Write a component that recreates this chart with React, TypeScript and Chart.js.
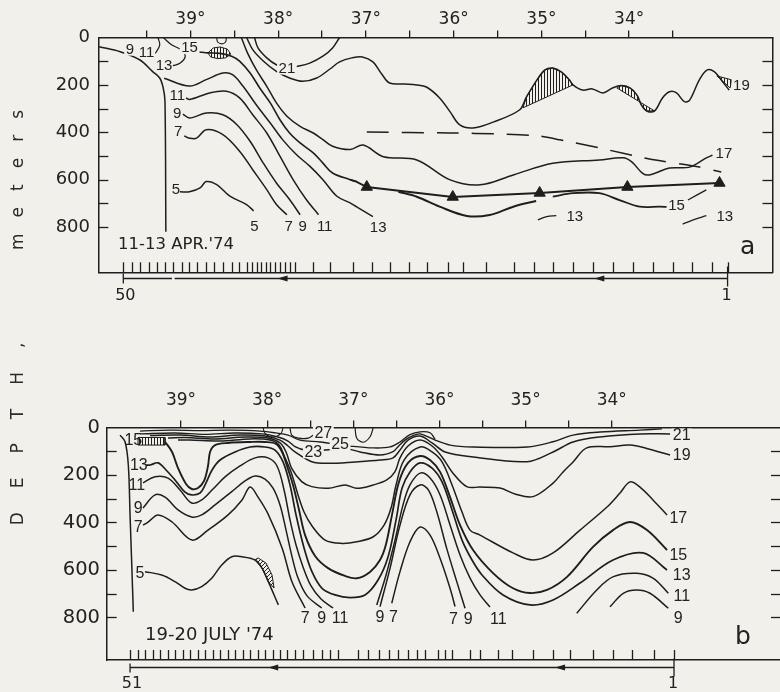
import React, { useEffect, useRef } from 'react';
import { Chart, registerables } from 'chart.js';
Chart.register(...registerables);

const INK = '#1e1e1e';
const TXT = '#222222';
const BG = '#f2f0ea';

type Pt = [number, number];
type Lbl = [string, number, number];

// ---------- shared axis values ----------
const depthLabels = [0, 200, 400, 600, 800];
const sideTicks = [100, 200, 300, 400, 500, 600, 700, 800];
const lonTicksA = [39.5, 39, 38.5, 38, 37.5, 37, 36.5, 36, 35.5, 35, 34.5, 34, 33.5];
const lonTicksB = [39, 38.5, 38, 37.5, 37, 36.5, 36, 35.5, 35, 34.5, 34];

// ---------- panel a (11-13 APR '74) : [longitude, depth m] ----------
const aCoast: Pt[] = [[40.04,39],[39.80,60],[39.575,95],[39.43,144],[39.35,171],[39.31,213],[39.29,271],[39.28,820]];
const aPocket11: Pt[] = [[39.37,0],[39.35,32],[39.40,67]];
const aPocket13: Pt[] = [[39.31,0],[39.21,32],[39.10,53],[39.06,81],[39.12,109],[39.20,119]];
const aLoop: Pt[] = [[38.70,0],[38.69,19],[38.64,27],[38.60,19],[38.59,0]];
const aLens: Pt[] = [[38.80,65],[38.74,44],[38.66,40],[38.58,49],[38.54,70],[38.60,86],[38.69,89],[38.77,82],[38.80,65]];
const a21: Pt[] = [[38.27,0],[38.23,44],[38.13,86],[38.02,115],[37.90,128],[37.79,122],[37.64,108],[37.49,79],[37.38,44],[37.30,0]];
const a19: Pt[] = [[38.36,0],[38.29,51],[38.17,99],[38.02,143],[37.87,171],[37.72,185],[37.56,171],[37.41,133],[37.30,103],[37.16,86],[37.04,82],[36.92,103],[36.82,154],[36.73,192],[36.56,196],[36.42,200],[36.31,209],[36.16,255],[36.04,314],[35.93,369],[35.78,382],[35.55,357],[35.25,306],[35.17,251],[35.05,179],[34.96,137],[34.87,129],[34.77,146],[34.68,179],[34.64,200],[34.53,222],[34.42,217],[34.30,234],[34.19,213],[34.09,203],[33.99,213],[33.91,243],[33.86,285],[33.80,310],[33.71,310],[33.62,255],[33.54,229],[33.46,234],[33.37,271],[33.31,264],[33.20,179],[33.11,137],[33.03,144],[32.95,179],[32.86,222]];
const a17: Pt[] = [[38.42,0],[38.35,65],[38.25,136],[38.13,206],[38.02,276],[37.90,332],[37.75,375],[37.60,403],[37.49,431],[37.38,459],[37.18,473],[37.03,454],[36.80,503],[36.42,517],[36.04,601],[35.70,622],[35.32,580],[34.87,531],[34.34,517],[34.07,508],[33.97,525],[33.85,572],[33.77,580],[33.54,551],[33.31,547],[33.12,508],[33.05,497]];
const a15: Pt[] = [[38.90,61],[38.80,65],[38.66,67],[38.53,79],[38.44,100],[38.32,150],[38.21,213],[38.09,276],[37.98,347],[37.87,403],[37.75,445],[37.60,487],[37.49,530],[37.38,572],[37.18,600],[37.11,608]];
const aTriLine: Pt[] = [[37.18,600],[37.11,608],[36.99,631],[36.01,673],[35.02,656],[34.02,631],[32.97,614]];
const aTriangles: Pt[] = [[36.99,631],[36.01,673],[35.02,656],[34.02,631],[32.97,614]];
const a13: Pt[] = [[39.30,172],[39.01,205],[38.82,178],[38.63,150],[38.52,157],[38.40,206],[38.25,284],[38.09,361],[37.95,431],[37.79,495],[37.64,543],[37.49,600],[37.33,670],[37.18,698],[37.11,714],[36.92,756]];
const a11: Pt[] = [[39.05,255],[39.01,262],[38.78,234],[38.59,227],[38.44,255],[38.29,326],[38.13,403],[37.98,501],[37.83,600],[37.68,684],[37.54,748]];
const a9: Pt[] = [[39.085,323],[39.01,340],[38.82,319],[38.63,326],[38.47,368],[38.32,438],[38.17,530],[38.02,614],[37.87,684],[37.75,748]];
const a7: Pt[] = [[39.07,416],[39.01,425],[38.93,425],[38.82,389],[38.63,410],[38.44,480],[38.29,558],[38.13,642],[38.02,705],[37.90,748]];
const a5: Pt[] = [[39.12,651],[39.01,651],[38.89,635],[38.82,608],[38.70,621],[38.55,670],[38.36,705],[38.28,732]];
const aDashed: Pt[] = [[36.99,399],[36.04,403],[35.48,407],[35.02,416],[34.79,432],[34.34,466],[33.77,513],[33.20,547],[32.95,568]];
const aHatch1: Pt[] = [[35.21,297],[35.17,251],[35.05,179],[34.96,137],[34.87,129],[34.77,146],[34.68,179],[34.64,200],[35.21,297]];
const aHatch2: Pt[] = [[34.14,213],[34.09,203],[33.99,213],[33.91,243],[33.86,285],[33.80,310],[33.71,310],[34.14,213]];
const aHatch3: Pt[] = [[33.00,162],[32.85,213],[32.83,179],[33.00,162]];
const a15lo1: Pt[] = [[36.63,651],[36.42,672],[36.16,714],[35.85,753],[35.59,749],[35.32,714],[35.06,690]];
const a15lo2: Pt[] = [[34.87,672],[34.64,657],[34.34,657],[34.11,686],[33.88,714],[33.65,714],[33.57,715]];
const a15lo3: Pt[] = [[33.33,686],[33.12,643]];
const a13f1: Pt[] = [[35.04,770],[34.94,756],[34.83,752]];
const a13f2: Pt[] = [[33.39,788],[33.27,770],[33.12,752]];

const stationsA = [39.765,39.670,39.575,39.469,39.385,39.290,39.196,39.100,39.014,38.923,38.823,38.732,38.633,38.531,38.444,38.353,38.296,38.246,38.200,38.144,38.095,38.038,37.981,37.924,37.867,37.810,37.605,37.412,37.149,36.933,36.728,36.512,36.307,36.067,35.896,35.634,35.315,35.087,34.871,34.643,34.415,34.187,33.960,33.732,33.504,33.287,33.060,32.878];
const arrowEndsA = [39.765, 32.878];
const arrowHeadsA = [37.95, 34.34];
const arrowGapA = [39.21, 39.18];

const labelsA: Lbl[] = [
  ['9',39.69,49],['15',39.01,43],['21',37.90,129],
  ['5',38.27,798],['7',37.88,798],['9',37.72,798],['11',37.47,798],['13',36.86,800],
  ['17',32.92,491],['15',33.46,707],['13',34.62,756],['13',32.91,756],['19',32.72,200],
];
const plainLabelsA: Lbl[] = [
  ['11',39.50,61],['13',39.30,116],['11',39.15,245],['9',39.15,319],['7',39.14,397],['5',39.165,643],
];

// ---------- panel b (19-20 JULY '74) ----------
const bCoast: Pt[] = [[39.708,32],[39.650,60],[39.612,158],[39.592,368],[39.572,579],[39.554,776]];
const bHatchBox: Pt[] = [[39.499,42],[39.186,42],[39.186,74],[39.499,74],[39.499,42]];
const b25: Pt[] = [[39.476,15],[39.128,11],[38.779,13],[38.431,11],[38.083,15],[37.897,23],[37.758,32],[37.619,53],[37.386,61],[37.212,69],[37.038,78],[36.771,86],[36.574,82],[36.458,61],[36.342,30],[36.225,18],[36.109,22],[36.05,50]];
const b23: Pt[] = [[39.476,27],[39.070,23],[38.721,29],[38.373,23],[38.060,27],[37.874,40],[37.758,57],[37.677,81],[37.560,95],[37.328,95],[37.061,91],[36.922,103],[36.690,116],[36.539,102],[36.481,81],[36.400,53],[36.318,36],[36.225,27],[36.051,53],[35.877,74],[35.610,82],[34.983,82],[34.681,60],[34.449,32],[34.136,19],[33.672,11],[33.417,6]];
const b21: Pt[] = [[39.360,34],[39.012,32],[38.663,40],[38.315,32],[38.025,36],[37.851,53],[37.758,78],[37.677,103],[37.483,144],[37.293,151],[36.980,145],[36.690,137],[36.539,128],[36.458,95],[36.365,53],[36.225,36],[36.086,65],[35.935,103],[35.610,124],[34.983,144],[34.681,103],[34.449,61],[34.136,40],[33.672,27],[33.323,27]];
const b19: Pt[] = [[39.151,44],[38.954,42],[38.605,48],[38.257,40],[37.990,44],[37.851,65],[37.781,103],[37.715,172],[37.599,228],[37.483,249],[37.290,256],[37.096,242],[36.960,256],[36.768,242],[36.612,221],[36.516,186],[36.458,128],[36.365,78],[36.225,53],[36.086,78],[35.970,124],[35.854,187],[35.683,249],[35.529,251],[35.297,255],[35.123,280],[34.914,291],[34.681,234],[34.565,187],[34.449,145],[34.290,86],[34.020,81],[33.788,74],[33.594,88],[33.323,116]];
const b17: Pt[] = [[39.035,53],[38.896,53],[38.547,57],[38.199,48],[37.967,53],[37.862,74],[37.793,128],[37.723,187],[37.642,284],[37.572,356],[37.479,415],[37.328,474],[37.134,488],[36.960,481],[36.768,460],[36.643,411],[36.562,339],[36.504,242],[36.411,137],[36.225,82],[36.086,103],[35.970,145],[35.854,242],[35.738,356],[35.645,432],[35.529,453],[35.146,528],[34.914,558],[34.681,528],[34.368,432],[34.055,335],[33.904,276],[33.788,229],[33.672,251],[33.521,305],[33.358,368]];
const b15: Pt[] = [[39.186,60],[39.104,103],[39.035,171],[38.942,238],[38.876,259],[38.803,255],[38.733,225],[38.687,162],[38.663,103],[38.605,74],[38.454,65],[38.199,61],[38.025,61],[37.897,69],[37.827,103],[37.770,162],[37.700,242],[37.630,347],[37.560,453],[37.444,541],[37.293,592],[37.096,625],[36.960,635],[36.806,608],[36.690,558],[36.623,495],[36.551,368],[36.470,229],[36.365,149],[36.225,120],[36.109,137],[35.993,187],[35.877,293],[35.761,411],[35.610,516],[35.378,613],[35.146,677],[34.948,697],[34.751,684],[34.519,629],[34.217,503],[33.985,432],[33.788,398],[33.591,432],[33.358,516]];
const b13: Pt[] = [[39.406,158],[39.360,158],[39.267,149],[39.174,179],[39.070,221],[38.954,272],[38.876,284],[38.779,276],[38.721,242],[38.640,179],[38.547,137],[38.373,103],[38.199,82],[38.025,82],[37.909,95],[37.816,145],[37.735,242],[37.665,368],[37.572,507],[37.479,608],[37.363,677],[37.212,705],[37.038,716],[36.864,705],[36.713,642],[36.597,545],[36.504,389],[36.434,255],[36.342,187],[36.225,149],[36.086,171],[35.970,229],[35.854,347],[35.738,474],[35.622,558],[35.506,621],[35.262,705],[34.948,747],[34.681,726],[34.368,655],[33.985,558],[33.637,528],[33.358,600]];
const b11: Pt[] = [[39.441,233],[39.302,207],[39.151,213],[39.012,263],[38.876,318],[38.760,305],[38.629,259],[38.489,208],[38.315,162],[38.141,128],[37.990,128],[37.886,162],[37.804,263],[37.735,389],[37.665,495],[37.584,587],[37.491,667],[37.375,722],[37.235,760]];
const b9: Pt[] = [[39.441,339],[39.302,284],[39.186,293],[39.035,347],[38.876,377],[38.760,368],[38.605,326],[38.411,270],[38.257,225],[38.141,204],[38.025,217],[37.932,255],[37.851,326],[37.781,432],[37.711,545],[37.642,634],[37.537,709],[37.367,760]];
const b7: Pt[] = [[39.441,411],[39.383,398],[39.267,368],[39.104,398],[38.872,474],[38.687,432],[38.454,368],[38.292,305],[38.199,251],[38.106,293],[37.990,364],[37.827,507],[37.711,651],[37.560,760]];
const b5: Pt[] = [[39.418,607],[39.224,621],[39.070,649],[38.954,677],[38.876,684],[38.760,670],[38.644,635],[38.528,579],[38.411,544],[38.295,544],[38.141,558],[38.060,592],[37.987,649],[37.870,747]];
const bHatch5: Pt[] = [[38.141,558],[38.060,592],[37.987,649],[37.920,676],[37.944,621],[38.013,571],[38.106,549],[38.141,558]];
const bDome11: Pt[] = [[36.728,747],[36.620,621],[36.516,474],[36.423,326],[36.342,242],[36.225,192],[36.109,213],[35.993,284],[35.877,411],[35.761,537],[35.645,634],[35.529,705],[35.413,756]];
const bDome9: Pt[] = [[36.690,754],[36.574,593],[36.458,411],[36.342,284],[36.225,242],[36.129,263],[36.032,354],[35.916,509],[35.799,649],[35.703,761]];
const bDome7: Pt[] = [[36.554,740],[36.458,607],[36.342,481],[36.225,419],[36.109,453],[35.993,551],[35.877,677],[35.819,754]];
const b11r: Pt[] = [[34.406,782],[34.174,684],[33.981,628],[33.710,614],[33.517,635],[33.343,698]];
const b9r: Pt[] = [[34.020,755],[33.866,698],[33.710,684],[33.556,698],[33.343,761]];
const b27: Pt[] = [[37.735,0],[37.715,32],[37.638,45],[37.522,45],[37.464,32]];
const bU1: Pt[] = [[38.048,0],[38.025,25],[37.932,40],[37.839,25],[37.816,0]];
const bU2: Pt[] = [[36.980,0],[36.960,45],[36.884,62],[36.806,39],[36.768,0]];

const stationsB = [39.592,39.505,39.418,39.331,39.244,39.157,39.070,38.983,38.896,38.808,38.721,38.634,38.547,38.460,38.373,38.286,38.199,38.112,38.025,37.938,37.851,37.773,37.677,37.580,37.464,37.367,37.270,37.174,36.942,36.826,36.698,36.582,36.481,36.365,36.264,36.167,36.013,35.935,35.857,35.645,35.528,35.316,35.160,34.919,34.678,34.484,34.223,33.991,33.759,33.509,33.277];
const arrowEndsB = [39.592, 33.277];
const arrowHeadsB = [37.93, 34.60];

const labelsB: Lbl[] = [
  ['27',37.348,24],['25',37.154,71],['23',37.464,102],
  ['7',37.560,802],['9',37.367,802],['11',37.154,802],
  ['9',36.690,798],['7',36.535,798],
  ['7',35.839,806],['9',35.665,806],['11',35.317,806],
  ['21',33.187,32],['19',33.187,116],['17',33.227,382],['15',33.227,537],['13',33.187,621],['11',33.187,712],['9',33.227,803],
];
const plainLabelsB: Lbl[] = [
  ['15',39.554,53],['13',39.49,158],['11',39.514,242],['9',39.496,339],['7',39.496,418],['5',39.476,614],
];

// ---------- panels ----------
const panelA = {
  id: 'a', lonMin: 32.366, lonMax: 40.05, depthMax: 991, lonTicks: lonTicksA,
  stations: stationsA, labels: labelsA, plain: plainLabelsA, labelSize: 15,
  arrowEnds: arrowEndsA, arrowHeads: arrowHeadsA, arrowGap: arrowGapA, endText: ['50', '1'],
  title: ["11-13 APR.'74", 39.826, 875] as Lbl, titleSize: 16.5, letter: ['a', 32.65, 885] as Lbl,
  box: { top: 37.5, bottom: 27.7, left: 98.3, right: 7 }, topPad: 0.5, leftPad: 8.3, yFont: 18,
  arrowDy: 6, numDy: 23.5, barR: [-12, 8], barL: [-5, 5],
};
const panelB = {
  id: 'b', lonMin: 32.035, lonMax: 39.863, depthMax: 979, lonTicks: lonTicksB,
  stations: stationsB, labels: labelsB, plain: plainLabelsB, labelSize: 16,
  arrowEnds: arrowEndsB, arrowHeads: arrowHeadsB, arrowGap: null as number[] | null, endText: ['51', '1'],
  title: ["19-20 JULY '74", 39.418, 874] as Lbl, titleSize: 18, letter: ['b', 32.476, 884] as Lbl,
  box: { top: 47.5, bottom: 32, left: 106.7, right: 9 }, topPad: 10, leftPad: 6.7, yFont: 19.5,
  arrowDy: 7, numDy: 24, barR: [-9, 9], barL: [-4, 5],
};

function toXY(a: Pt[]) { return a.map(([x, y]) => ({ x, y })); }
function lineDs(data: Pt[], width = 1.5, extra: any = {}) {
  return { data: toXY(data), borderColor: INK, borderWidth: width, pointRadius: 0, tension: 0.35, fill: false, xAxisID: 'x', yAxisID: 'y', ...extra };
}
function hatchDs(data: Pt[], pattern: any) {
  return { data: toXY(data), borderColor: INK, borderWidth: 1, pointRadius: 0, tension: 0, fill: 'shape', backgroundColor: pattern, xAxisID: 'x', yAxisID: 'y' };
}
function makePattern(kind: 'v' | 'd') {
  const c = document.createElement('canvas');
  const n = kind === 'v' ? 3 : 4;
  c.width = n; c.height = n;
  const g = c.getContext('2d')!;
  g.strokeStyle = INK; g.lineWidth = 1;
  g.beginPath();
  if (kind === 'v') { g.moveTo(1.5, 0); g.lineTo(1.5, n); } else { g.moveTo(0, n); g.lineTo(n, 0); }
  g.stroke();
  return g.createPattern(c, 'repeat');
}

function datasetsA(v: any) {
  return [
    lineDs(aCoast, 1.5), lineDs(aPocket11, 1.2), lineDs(aPocket13, 1.3), lineDs(aLoop, 1.1),
    lineDs(a21), lineDs(a19), lineDs(a17), lineDs(a15, 1.6), lineDs(aTriLine, 1.9, { tension: 0 }),
    lineDs(a13), lineDs(a11), lineDs(a9), lineDs(a7), lineDs(a5),
    lineDs(aDashed, 1.5, { borderDash: [22, 13], tension: 0.2 }),
    lineDs(a15lo1, 2), lineDs(a15lo2, 1.8), lineDs(a15lo3, 1.3), lineDs(a13f1, 1.3), lineDs(a13f2, 1.3),
    hatchDs(aLens, v), hatchDs(aHatch1, v), hatchDs(aHatch2, v), hatchDs(aHatch3, v),
    { data: toXY(aTriangles), showLine: false, pointStyle: 'triangle', pointRadius: 6.5, pointBackgroundColor: INK, pointBorderColor: INK, pointBorderWidth: 1, xAxisID: 'x', yAxisID: 'y' },
  ];
}
function datasetsB(v: any, d: any) {
  return [
    lineDs(bCoast, 1.5), lineDs(b25, 1.3), lineDs(b23, 1.4), lineDs(b21, 1.5), lineDs(b19, 1.5), lineDs(b17, 1.5),
    lineDs(b15, 1.9), lineDs(b13, 1.7), lineDs(b11), lineDs(b9), lineDs(b7), lineDs(b5),
    lineDs(bDome11), lineDs(bDome9), lineDs(bDome7), lineDs(b11r), lineDs(b9r),
    lineDs(b27, 1.2), lineDs(bU1, 1.1), lineDs(bU2, 1.2),
    hatchDs(bHatchBox, v), hatchDs(bHatch5, d),
  ];
}

function decor(p: any) {
  return {
    id: 'decor_' + p.id,
    afterDatasetsDraw(chart: any) {
      const { ctx, chartArea: ca } = chart;
      const xs = chart.scales.x, ys = chart.scales.y;
      const X = (val: number) => xs.getPixelForValue(val);
      const Y = (val: number) => ys.getPixelForValue(val);
      const seg = (x1: number, y1: number, x2: number, y2: number) => { ctx.beginPath(); ctx.moveTo(x1, y1); ctx.lineTo(x2, y2); ctx.stroke(); };
      ctx.save();
      ctx.strokeStyle = INK; ctx.fillStyle = INK; ctx.lineWidth = 1.3;
      for (const dep of sideTicks) {
        const yy = Math.round(Y(dep)) + 0.5;
        seg(ca.left, yy, ca.left + 10, yy);
        seg(ca.right, yy, ca.right - 10, yy);
      }
      for (const s of p.stations) {
        const xx = Math.round(X(s)) + 0.5;
        seg(xx, ca.bottom, xx, ca.bottom - 10);
      }
      // contour labels
      ctx.textAlign = 'center'; ctx.textBaseline = 'middle';
      ctx.font = `${p.labelSize}px "Liberation Sans", Arial, sans-serif`;
      for (const [t, lon, dep] of p.labels) {
        const px = X(lon), py = Y(dep);
        const w = ctx.measureText(t).width;
        ctx.fillStyle = BG; ctx.fillRect(px - w / 2 - 1.5, py - 6.5, w + 3, 13);
        ctx.fillStyle = TXT; ctx.fillText(t, px, py + 0.5);
      }
      for (const [t, lon, dep] of p.plain) {
        ctx.fillStyle = TXT; ctx.fillText(t, X(lon), Y(dep) + 0.5);
      }
      // date title and panel letter
      ctx.textAlign = 'left';
      ctx.font = `${p.titleSize}px "DejaVu Sans", sans-serif`;
      ctx.fillText(p.title[0], X(p.title[1]), Y(p.title[2]));
      ctx.textAlign = 'center';
      ctx.font = '25px "DejaVu Sans", sans-serif';
      ctx.fillText(p.letter[0], X(p.letter[1]), Y(p.letter[2]));
      // station arrow below the section
      ctx.strokeStyle = INK; ctx.fillStyle = INK; ctx.lineWidth = 1.3;
      const ay = Math.round(ca.bottom + p.arrowDy) + 0.5;
      const xa = X(p.arrowEnds[0]), xb = X(p.arrowEnds[1]);
      if (p.arrowGap) { seg(xa, ay, X(p.arrowGap[0]), ay); seg(X(p.arrowGap[1]), ay, xb, ay); }
      else seg(xa, ay, xb, ay);
      seg(xa, ay + p.barL[0], xa, ay + p.barL[1]);
      seg(xb, ay + p.barR[0], xb, ay + p.barR[1]);
      for (const h of p.arrowHeads) {
        const hx = X(h);
        ctx.beginPath(); ctx.moveTo(hx - 5, ay); ctx.lineTo(hx + 5, ay - 3); ctx.lineTo(hx + 5, ay + 3); ctx.closePath(); ctx.fill();
      }
      ctx.font = '16px "DejaVu Sans", sans-serif';
      ctx.fillStyle = TXT;
      ctx.fillText(p.endText[0], xa + 2, ca.bottom + p.numDy);
      ctx.fillText(p.endText[1], xb - 1, ca.bottom + p.numDy);
      ctx.restore();
    },
  };
}

function buildConfig(p: any, datasets: any[]) {
  const border = { display: true, color: INK, width: 1.5 };
  return {
    type: 'line',
    data: { datasets },
    options: {
      responsive: false,
      animation: false,
      events: [],
      layout: { padding: 0 },
      plugins: { legend: { display: false }, tooltip: { enabled: false }, title: { display: false } },
      scales: {
        x: {
          type: 'linear', position: 'bottom', min: p.lonMin, max: p.lonMax, reverse: true,
          ticks: { display: false }, grid: { display: false, drawTicks: false }, border,
          afterFit: (s: any) => { s.height = p.box.bottom; },
        },
        xTop: {
          type: 'linear', position: 'top', min: p.lonMin, max: p.lonMax, reverse: true,
          afterBuildTicks: (s: any) => { s.ticks = p.lonTicks.map((v: number) => ({ value: v })); },
          ticks: {
            autoSkip: false, maxRotation: 0, minRotation: 0, padding: p.topPad, color: TXT,
            font: { family: 'DejaVu Sans', size: 17 },
            callback: (v: any) => (Number.isInteger(v) ? `${v}°` : ''),
          },
          grid: { display: true, drawOnChartArea: false, drawTicks: true, tickLength: 7, color: INK, lineWidth: 1.3 },
          border,
          afterFit: (s: any) => { s.height = p.box.top; },
        },
        y: {
          type: 'linear', position: 'left', min: 0, max: p.depthMax, reverse: true,
          afterBuildTicks: (s: any) => { s.ticks = depthLabels.map((v) => ({ value: v })); },
          ticks: { autoSkip: false, padding: p.leftPad, color: TXT, font: { family: 'DejaVu Sans', size: p.yFont }, callback: (v: any) => String(v) },
          grid: { display: false, drawTicks: false }, border,
          afterFit: (s: any) => { s.width = p.box.left; },
        },
        yR: {
          type: 'linear', position: 'right', min: 0, max: p.depthMax, reverse: true,
          ticks: { display: false }, grid: { display: false, drawTicks: false }, border,
          afterFit: (s: any) => { s.width = p.box.right; },
        },
      },
    },
    plugins: [decor(p)],
  } as any;
}

export default function App() {
  const refA = useRef<HTMLCanvasElement>(null);
  const refB = useRef<HTMLCanvasElement>(null);
  useEffect(() => {
    const v = makePattern('v');
    const d = makePattern('d');
    const chartA = new Chart(refA.current as HTMLCanvasElement, buildConfig(panelA, datasetsA(v)));
    const chartB = new Chart(refB.current as HTMLCanvasElement, buildConfig(panelB, datasetsB(v, d)));
    return () => { chartA.destroy(); chartB.destroy(); };
  }, []);
  const titleStyle: React.CSSProperties = {
    position: 'absolute', left: 17, whiteSpace: 'nowrap', color: '#2a2a2a',
    font: '17px "DejaVu Sans", sans-serif', lineHeight: '17px',
  };
  return (
    <div style={{ position: 'fixed', left: 0, top: 0, width: 780, height: 692, overflow: 'hidden', background: BG }}>
      <canvas ref={refA} width={780} height={300} style={{ position: 'absolute', left: 0, top: 0, width: 780, height: 300 }} />
      <canvas ref={refB} width={790} height={312} style={{ position: 'absolute', left: 0, top: 380, width: 790, height: 312 }} />
      <div style={{ ...titleStyle, top: 434, letterSpacing: '24px', paddingLeft: '24px', transform: 'translate(-50%,-50%) rotate(-90deg)' }}>DEPTH,</div>
      <div style={{ ...titleStyle, top: 180, letterSpacing: '16px', paddingLeft: '16px', transform: 'translate(-50%,-50%) rotate(-90deg)' }}>meters</div>
    </div>
  );
}
